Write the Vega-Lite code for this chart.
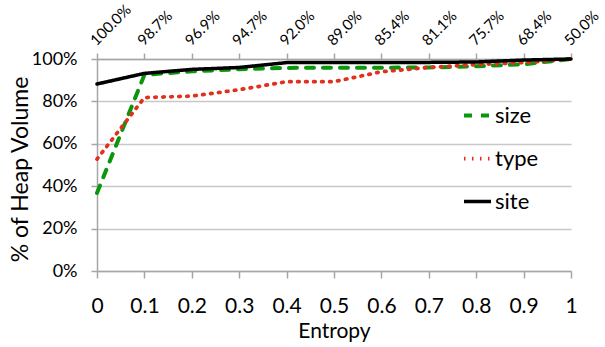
{
  "$schema": "https://vega.github.io/schema/vega-lite/v6.json",
  "width": 474,
  "height": 212,
  "autosize": {"type": "none"},
  "padding": {"left": 97, "top": 59, "right": 34, "bottom": 76},
  "config": {
    "view": {"stroke": null},
    "font": "Lato",
    "axis": {"labelColor": "#000000", "titleColor": "#000000", "titleFontWeight": "normal", "domainColor": "#a6a6a6", "tickColor": "#a6a6a6", "gridColor": "#c8c8c8", "domainWidth": 1.5, "tickWidth": 1.5, "gridWidth": 1.5}
  },
  "data": {
    "values": [
      {"series": "size", "entropy": 0.0, "volume": 0.368},
      {"series": "size", "entropy": 0.1, "volume": 0.925},
      {"series": "size", "entropy": 0.2, "volume": 0.942},
      {"series": "size", "entropy": 0.3, "volume": 0.952},
      {"series": "size", "entropy": 0.4, "volume": 0.958},
      {"series": "size", "entropy": 0.5, "volume": 0.959},
      {"series": "size", "entropy": 0.6, "volume": 0.959},
      {"series": "size", "entropy": 0.7, "volume": 0.96},
      {"series": "size", "entropy": 0.8, "volume": 0.966},
      {"series": "size", "entropy": 0.9, "volume": 0.975},
      {"series": "size", "entropy": 1.0, "volume": 1.0},
      {"series": "type", "entropy": 0.0, "volume": 0.528},
      {"series": "type", "entropy": 0.1, "volume": 0.818},
      {"series": "type", "entropy": 0.2, "volume": 0.825},
      {"series": "type", "entropy": 0.3, "volume": 0.855},
      {"series": "type", "entropy": 0.4, "volume": 0.893},
      {"series": "type", "entropy": 0.5, "volume": 0.893},
      {"series": "type", "entropy": 0.6, "volume": 0.94},
      {"series": "type", "entropy": 0.7, "volume": 0.96},
      {"series": "type", "entropy": 0.8, "volume": 0.974},
      {"series": "type", "entropy": 0.9, "volume": 0.983},
      {"series": "type", "entropy": 1.0, "volume": 1.0},
      {"series": "site", "entropy": 0.0, "volume": 0.882},
      {"series": "site", "entropy": 0.1, "volume": 0.932},
      {"series": "site", "entropy": 0.2, "volume": 0.951},
      {"series": "site", "entropy": 0.3, "volume": 0.96},
      {"series": "site", "entropy": 0.4, "volume": 0.983},
      {"series": "site", "entropy": 0.5, "volume": 0.984},
      {"series": "site", "entropy": 0.6, "volume": 0.984},
      {"series": "site", "entropy": 0.7, "volume": 0.984},
      {"series": "site", "entropy": 0.8, "volume": 0.986},
      {"series": "site", "entropy": 0.9, "volume": 0.995},
      {"series": "site", "entropy": 1.0, "volume": 1.0}
    ]
  },
  "layer": [
    {
      "mark": {"type": "line", "strokeCap": "round", "strokeJoin": "round"},
      "encoding": {
        "x": {
          "field": "entropy", "type": "quantitative",
          "scale": {"domain": [0, 1], "nice": false, "zero": false},
          "axis": {"orient": "bottom", "values": [0, 0.1, 0.2, 0.3, 0.4, 0.5, 0.6, 0.7, 0.8, 0.9, 1], "format": "~g", "grid": false, "tickSize": 7, "labelPadding": 17, "labelFontSize": 21, "labelFlush": false, "labelOverlap": false, "title": "Entropy", "titleFontSize": 21, "titleBaseline": "alphabetic", "titleY": 66, "titleX": 237}
        },
        "y": {
          "field": "volume", "type": "quantitative",
          "scale": {"domain": [0, 1], "nice": false},
          "axis": {"values": [0, 0.2, 0.4, 0.6, 0.8, 1], "format": ".0%", "grid": true, "tickSize": 6, "labelPadding": 14, "labelFontSize": 18, "title": "% of Heap Volume", "titleFontSize": 23, "titleAngle": -90, "titleBaseline": "middle", "titleAlign": "center", "titleX": -77, "titleY": 110}
        },
        "color": {
          "field": "series", "type": "nominal",
          "scale": {"domain": ["size", "type", "site"], "range": ["#0c960c", "#e0301e", "#000000"]},
          "legend": {"orient": "none", "legendX": 365, "legendY": 41, "title": null, "symbolType": "stroke", "symbolSize": 729, "labelFontSize": 22, "labelOffset": 2, "rowPadding": 16, "padding": 0, "labelColor": "#000000"}
        },
        "strokeDash": {
          "field": "series", "type": "nominal",
          "scale": {"domain": ["size", "type", "site"], "range": [[8, 9], [1.5, 6.5], [1, 0]]}
        },
        "strokeWidth": {
          "field": "series", "type": "nominal",
          "scale": {"domain": ["size", "type", "site"], "range": [4, 3.5, 4.5]}
        }
      }
    },
    {
      "mark": {"type": "rule", "opacity": 0},
      "encoding": {
        "x": {
          "field": "entropy", "type": "quantitative",
          "axis": {"orient": "top", "values": [0, 0.1, 0.2, 0.3, 0.4, 0.5, 0.6, 0.7, 0.8, 0.9, 1], "labelExpr": "['100.0%','98.7%','96.9%','94.7%','92.0%','89.0%','85.4%','81.1%','75.7%','68.4%','50.0%'][round(datum.value*10)]", "grid": false, "tickSize": 6, "labelPadding": 5, "labelFontSize": 15, "labelAngle": -45, "labelAlign": "left", "labelBaseline": "bottom", "labelOffset": 1, "labelFlush": false, "labelOverlap": false, "labelBound": false, "title": null}
        }
      }
    }
  ],
  "resolve": {"axis": {"x": "independent"}}
}
